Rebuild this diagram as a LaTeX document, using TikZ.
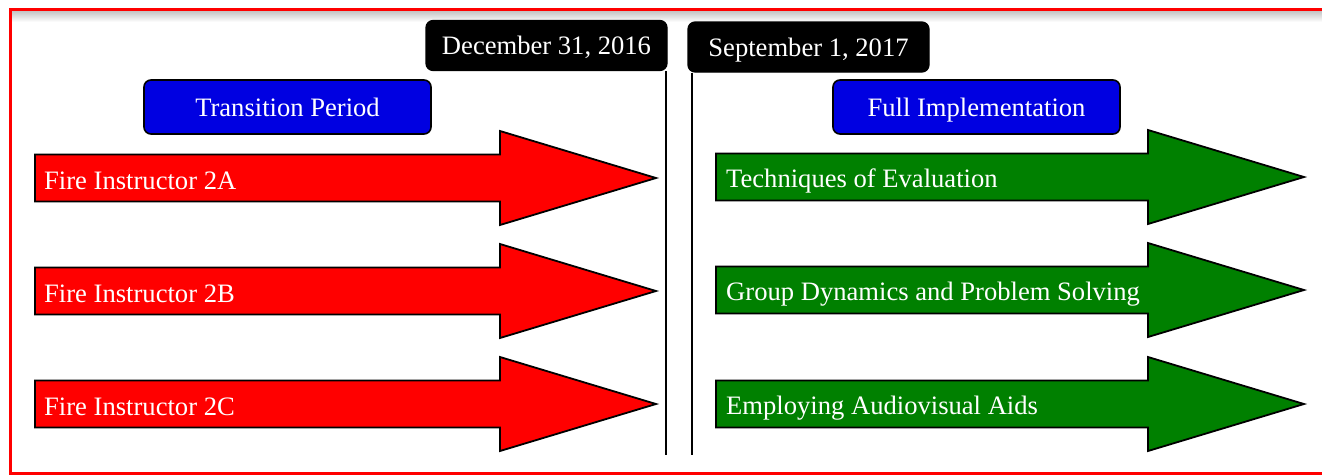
\documentclass[tikz,border=0pt]{standalone}
\usepackage{fontspec}
\setmainfont{Liberation Serif}
\definecolor{boxblue}{RGB}{0,0,225}
\definecolor{arrgreen}{RGB}{0,128,0}
\definecolor{arrred}{RGB}{255,0,0}
\begin{document}
\begin{tikzpicture}[x=1pt,y=-1pt,
  txt/.style={font=\fontsize{26.6}{30}\selectfont, text=white, inner sep=0pt, text height=20.5pt, text depth=2.5pt},
  phasebox/.style={draw=black, line width=1.6pt, fill=boxblue, rounded corners=7pt, minimum width=287pt, minimum height=54pt, txt},
  datebox/.style={draw=black, line width=1.2pt, fill=black, rounded corners=7pt, minimum width=241pt, minimum height=50pt, txt},
  redarr/.style={draw=black, line width=1.8pt, fill=arrred, line join=miter},
  greenarr/.style={draw=black, line width=1.8pt, fill=arrgreen, line join=miter},
  divider/.style={draw=black, line width=1.6pt}
]
\useasboundingbox (0,0) rectangle (1322,475);
\clip (0,0) rectangle (1322,475);
% frame with inner shadow at top
\shade[top color=black!25, bottom color=white] (11,10) rectangle (1330,22);
\draw[arrred, line width=3pt] (10,9) rectangle (1335,473);

% date boxes and dividers
\node[datebox] (d1) at (546.5,45.5) {December 31, 2016};
\node[datebox] (d2) at (808.5,47) {September 1, 2017};
\coordinate (l1) at (666,455);
\coordinate (l2) at (692,455);
\draw[divider] (d1.south east -| l1) -- (l1);
\draw[divider] (d2.south west -| l2) -- (l2);

% phase boxes
\node[phasebox] (p1) at (287.5,107) {Transition Period};
\node[phasebox] (p2) at (976.5,107) {Full Implementation};

% red arrows
\foreach \c/\t [count=\i] in {178/Fire Instructor 2A, 291/Fire Instructor 2B, 404/Fire Instructor 2C}{
  \draw[redarr] (35,\c-23.5) -- (500,\c-23.5) -- (500,\c-47) -- (656,\c) -- (500,\c+47) -- (500,\c+23.5) -- (35,\c+23.5) -- cycle;
  \node[txt, anchor=west] (r\i) at (44,\c+2) {\t};
}
% green arrows
\foreach \c/\t [count=\i] in {177/Techniques of Evaluation, 290/Group Dynamics and Problem Solving, 404/Employing Audiovisual Aids}{
  \draw[greenarr] (716,\c-23.5) -- (1148,\c-23.5) -- (1148,\c-47) -- (1304,\c) -- (1148,\c+47) -- (1148,\c+23.5) -- (716,\c+23.5) -- cycle;
  \node[txt, anchor=west] (g\i) at (726,\c+1.5) {\t};
}
\end{tikzpicture}
\end{document}
